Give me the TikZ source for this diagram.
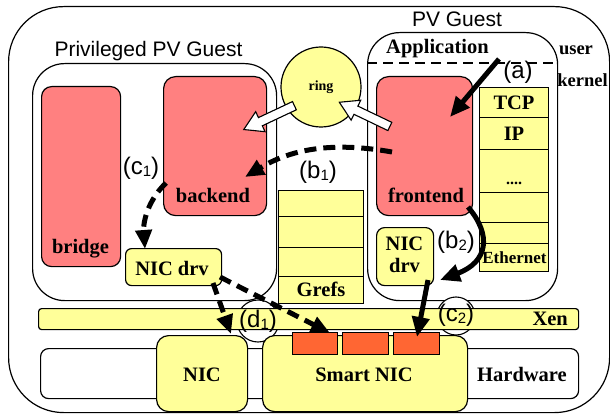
\documentclass[tikz,border=0pt]{standalone}
\usepackage{fontspec}
\setmainfont{Liberation Serif}
\newfontfamily\lsans{Liberation Sans}
\usetikzlibrary{arrows.meta,shapes.arrows}
\definecolor{redbox}{RGB}{255,128,128}
\definecolor{yelbox}{RGB}{255,255,153}
\definecolor{orabox}{RGB}{255,102,51}
\newcommand\sublbl[2]{(#1\raisebox{-2.5pt}{\fontsize{15}{15}\selectfont #2})}
\begin{document}
\begin{tikzpicture}[x=1pt,y=-1pt,
  bx/.style={draw, line width=1.2pt, inner sep=0pt, anchor=north west},
  rbx/.style={bx, fill=redbox},
  ybx/.style={bx, fill=yelbox},
  obx/.style={bx, fill=orabox},
  wbx/.style={bx, fill=white},
  txt/.style={font=\fontsize{20.5}{22}\selectfont\bfseries, inner sep=0pt, anchor=base},
  stxt/.style={font=\lsans\fontsize{21}{23}\selectfont, inner sep=0pt, anchor=base},
  lbl/.style={font=\lsans\fontsize{24}{26}\selectfont, inner sep=0pt},
  solidarr/.style={line width=5pt, -{Triangle[length=20pt,width=17pt]}},
  dasharr/.style={line width=5pt, dash pattern=on 12pt off 7pt, -{Triangle[length=19pt,width=16pt]}},
  harrow/.style={single arrow, draw, line width=1.1pt, fill=white, inner xsep=0pt, inner ysep=4pt,
    minimum width=21pt, single arrow head extend=6.5pt, single arrow tip angle=62, minimum height=#1}
]
\useasboundingbox (0,0) rectangle (610,414);
% outer frame
\node[wbx, rounded corners=55pt, minimum width=601pt, minimum height=406pt] (outer) at (8,6) {};
% guests
\node[wbx, rounded corners=32pt, minimum width=244pt, minimum height=237pt] (priv) at (32,63) {};
\node[wbx, rounded corners=32pt, minimum width=190pt, minimum height=268pt] (pv) at (367,32) {};
\coordinate (ul1) at (367,63); \coordinate (ul2) at (557,63);
\draw[line width=1.3pt, dash pattern=on 10pt off 6pt] (ul1) -- (ul2);
\node[stxt] (tpriv) at (148.5,57) {Privileged PV Guest};
\node[stxt] (tpv) at (457,27) {PV Guest};
\node[txt] (tapp) at (437.5,54) {Application};
\node[txt, font=\fontsize{18.5}{20}\selectfont\bfseries] (tuser) at (576,55) {user};
\node[txt, font=\fontsize{18.5}{20}\selectfont\bfseries] (tkern) at (582.5,87) {kernel};
% privileged guest content
\node[rbx, rounded corners=10pt, minimum width=79pt, minimum height=180pt] (bridge) at (41,86) {};
\node[rbx, rounded corners=12pt, minimum width=103pt, minimum height=139pt] (backend) at (163,76) {};
\node[ybx, rounded corners=6pt, minimum width=96pt, minimum height=37pt] (nicdrvl) at (125,248) {};
\node[txt] (tbridge) at (80.5,253) {bridge};
\node[txt] (tbackend) at (213,202) {backend};
\node[txt] (tnicl) at (172,275) {NIC drv};
% ring and grefs
\node[draw, line width=1.2pt, fill=yelbox, circle, minimum size=80pt, inner sep=0pt] (ring) at (321,87) {};
\node[txt, font=\fontsize{14}{15}\selectfont\bfseries] (tring) at (321,91) {ring};
\node[ybx, minimum width=85pt, minimum height=26pt] (g1) at (278,190) {};
\node[ybx, minimum width=85pt, minimum height=31pt] (g2) at (278,216) {};
\node[ybx, minimum width=85pt, minimum height=29pt] (g3) at (278,247) {};
\node[ybx, minimum width=85pt, minimum height=27pt] (g4) at (278,276) {};
\node[txt] (tgrefs) at (321,296) {Grefs};
% PV guest content
\node[rbx, rounded corners=12pt, minimum width=96pt, minimum height=139pt] (frontend) at (376,76) {};
\node[ybx, rounded corners=8pt, minimum width=57pt, minimum height=58pt] (nicdrvr) at (376,227) {};
\node[txt] (tfront) at (426,203) {frontend};
\node[txt] (tnicr1) at (404.5,250) {NIC};
\node[txt] (tnicr2) at (404.5,272) {drv};
\node[ybx, minimum width=69pt, minimum height=30pt] (s1) at (479,87) {};
\node[ybx, minimum width=69pt, minimum height=32pt] (s2) at (479,117) {};
\node[ybx, minimum width=69pt, minimum height=43pt] (s3) at (479,149) {};
\node[ybx, minimum width=69pt, minimum height=30pt] (s4) at (479,192) {};
\node[ybx, minimum width=69pt, minimum height=21pt] (s5) at (479,222) {};
\node[ybx, minimum width=69pt, minimum height=28pt] (s6) at (479,243) {};
\node[txt] (ttcp) at (514,110) {TCP};
\node[txt] (tip) at (514,141) {IP};
\node[txt, font=\fontsize{16}{17}\selectfont\bfseries] (tdots) at (514,185) {....};
\node[txt, font=\fontsize{17}{18}\selectfont\bfseries] (teth) at (514.5,263) {Ethernet};
% hardware
\node[wbx, rounded corners=8pt, minimum width=538pt, minimum height=50pt] (hw) at (40,348) {};
\node[txt] (thw) at (522,381) {Hardware};
% label circles
\node[draw, line width=1.1pt, fill=white, circle, minimum size=42pt, inner sep=0pt] (cd1) at (258,321) {};
\node[draw, line width=1.1pt, fill=white, circle, minimum size=38pt, inner sep=0pt] (cc2) at (456,316) {};
% Xen
\node[ybx, rounded corners=3pt, minimum width=540pt, minimum height=21pt] (xen) at (38,308) {};
\node[txt, anchor=base east] (txen) at (568,325) {Xen};
% NICs
\node[ybx, rounded corners=12pt, minimum width=91pt, minimum height=76pt] (nic) at (156,335) {};
\node[ybx, rounded corners=12pt, minimum width=205pt, minimum height=76pt] (snic) at (262,335) {};
\node[obx, line width=1pt, minimum width=45pt, minimum height=22pt] (o1) at (292,332) {};
\node[obx, line width=1pt, minimum width=46pt, minimum height=22pt] (o2) at (342,332) {};
\node[obx, line width=1pt, minimum width=46pt, minimum height=22pt] (o3) at (393,332) {};
\node[txt] (tnic) at (202,381) {NIC};
\node[txt] (tsnic) at (364,381) {Smart NIC};
% hollow arrows
\node[harrow=56pt, rotate=154.4] (h1) at (368,116) {};
\node[harrow=56pt, rotate=205.2] (h2) at (272.5,116) {};
% arrows
\coordinate (a0) at (499,59); \coordinate (a1) at (450,117);
\draw[solidarr] (a0) -- (a1);
\coordinate (b1s) at (392,152); \coordinate (b1e) at (245,177);
\draw[dasharr] (b1s) .. controls (330,141) and (290,150) .. (b1e);
\coordinate (c1s) at (166,183); \coordinate (c1e) at (145,249);
\draw[dasharr] (c1s) .. controls (148,200) and (143,222) .. (c1e);
\coordinate (d1s) at (213,283); \coordinate (d1e) at (231,334);
\draw[dasharr] (d1s) -- (d1e);
\coordinate (e1s) at (220,277); \coordinate (e1e) at (330,333);
\draw[dasharr] (e1s) -- (e1e);
\coordinate (b2s) at (468,207); \coordinate (b2e) at (440,280);
\draw[solidarr] (b2s) .. controls (492,235) and (488,262) .. (b2e);
\coordinate (c2s) at (428,280); \coordinate (c2e) at (417,337);
\draw[solidarr] (c2s) -- (c2e);
% labels
\node[lbl] (la) at (518,72) {(a)};
\node[lbl] (lb1) at (318,172) {\sublbl{b}{1}};
\node[lbl] (lb2) at (456,242) {\sublbl{b}{2}};
\node[lbl] (lc1) at (141,168) {\sublbl{c}{1}};
\node[lbl] (lc2) at (456,315) {\sublbl{c}{2}};
\node[lbl] (ld1) at (258,321) {\sublbl{d}{1}};
\end{tikzpicture}
\end{document}
